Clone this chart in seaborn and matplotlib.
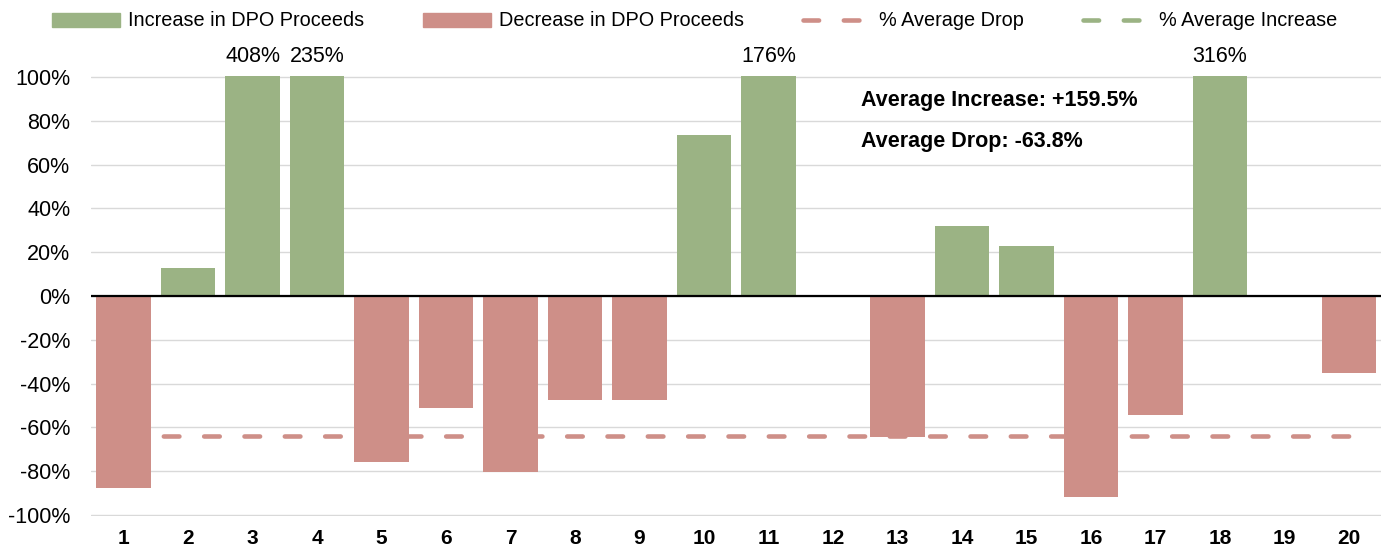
import numpy as np
import pandas as pd
import seaborn as sns
import matplotlib
matplotlib.use('Agg')
from matplotlib import pyplot as plt
from matplotlib.patches import Patch
from matplotlib.lines import Line2D

deals = [str(i) for i in range(1, 21)]
change = [-87.5, 13, 408, 235, -76, -51, -80.5, -47.5, -47.5, 73.5,
          176, 0, -64.5, 32, 23, -92, -54.5, 316, 0, -35]
avg_increase = 159.5
avg_drop = -63.8
yticks = [-100, -80, -60, -40, -20, 0, 20, 40, 60, 80, 100]

green = '#9BB384'
red = '#CE8F88'

df = pd.DataFrame({'deal': deals, 'change': change})
df['kind'] = np.where(df['change'] >= 0, 'inc', 'dec')

sns.set_style('white')
plt.rcParams['font.family'] = ['Liberation Sans', 'DejaVu Sans']
plt.rcParams['text.color'] = 'black'
plt.rcParams['xtick.color'] = 'black'
plt.rcParams['ytick.color'] = 'black'

fig = plt.figure(figsize=(13.89, 5.5), dpi=100)
ax = fig.add_axes([91.25 / 1389, 34 / 550, 1290 / 1389, 440 / 550])

# average drop line sits behind the bars
ax.plot([0, 19], [avg_drop, avg_drop], color=red, lw=3.3, ls=(0, (3.4, 5.4)),
        dash_capstyle='round', zorder=1)
ax.plot([0, 19], [avg_increase, avg_increase], color=green, lw=3.3,
        ls=(0, (3.4, 5.4)), dash_capstyle='round', zorder=1)

sns.barplot(data=df, x='deal', y='change', hue='kind', order=deals,
            palette={'inc': green, 'dec': red}, dodge=False, width=0.84,
            saturation=1, legend=False, ax=ax, zorder=2, edgecolor='none')

ax.set_xlim(-0.5, 19.5)
ax.set_ylim(-100.5, 100.5)
ax.set_yticks(yticks)
ax.set_yticklabels([f'{v}%' for v in yticks], fontsize=15.5)
ax.set_xticks(range(20))
ax.set_xticklabels(deals, fontsize=15, fontweight='bold')
ax.tick_params(axis='y', length=0, pad=15)
ax.tick_params(axis='x', length=0, pad=9)
ax.set_xlabel('')
ax.set_ylabel('')
for s in ax.spines.values():
    s.set_visible(False)
ax.yaxis.grid(True, color='#D9D9D9', lw=1)
ax.set_axisbelow(True)
ax.axhline(0, color='black', lw=1.6, zorder=3)

# labels for bars that run off the top
for i, v in enumerate(change):
    if v > 100:
        ax.annotate(f'{v:.0f}%', (i, 100), xytext=(0, 7), textcoords='offset points',
                    ha='center', va='bottom', fontsize=15.5)

ax.text(0.597, 0.944, f'Average Increase: +{avg_increase}%', transform=ax.transAxes,
        fontsize=15.5, fontweight='bold', va='center', ha='left')
ax.text(0.597, 0.852, f'Average Drop: {avg_drop}%', transform=ax.transAxes,
        fontsize=15.5, fontweight='bold', va='center', ha='left')

handles = [Patch(color=green, label='Increase in DPO Proceeds'),
           Patch(color=red, label='Decrease in DPO Proceeds'),
           Line2D([], [], color=red, lw=3.3, ls=(0, (3.4, 5.4)), dash_capstyle='round',
                  label='% Average Drop'),
           Line2D([], [], color=green, lw=3.3, ls=(0, (3.4, 5.4)), dash_capstyle='round',
                  label='% Average Increase')]
fig.legend(handles=handles, loc='center', bbox_to_anchor=(0.5, 1 - 21 / 550), ncol=4,
           frameon=False, fontsize=14.3, handlelength=3.4, handleheight=0.7,
           columnspacing=3.0, handletextpad=0.4)

fig.savefig('out.png', dpi=100)
